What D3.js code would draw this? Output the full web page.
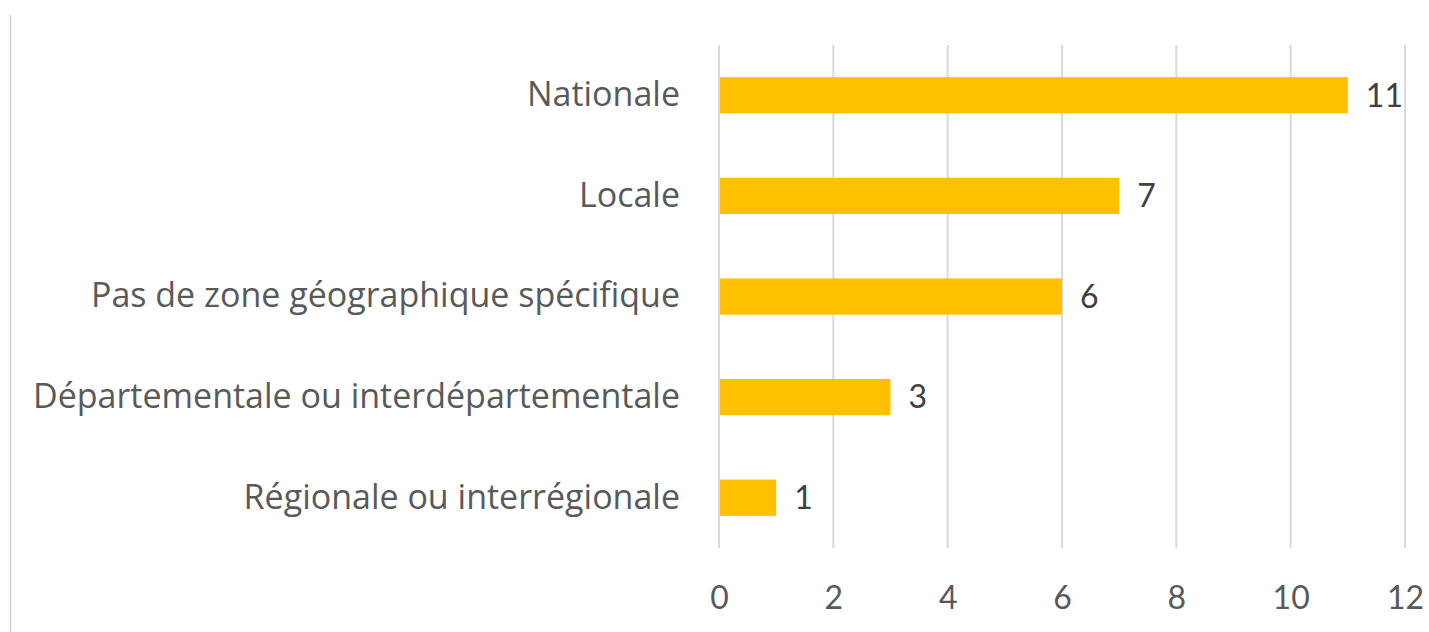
<!DOCTYPE html>
<html>
<head>
<meta charset="utf-8">
<script src="https://cdn.jsdelivr.net/npm/d3@7"></script>
<style>
  body { margin: 0; background: #fff; }
  svg { display: block; }
</style>
</head>
<body>
<svg id="chart" width="1429" height="632"></svg>
<script>
// data
var categories = ["Nationale", "Locale", "Pas de zone géographique spécifique",
                  "Départementale ou interdépartementale", "Régionale ou interrégionale"];
var values = [11, 7, 6, 3, 1];
var xTicks = [0, 2, 4, 6, 8, 10, 12];

var svg = d3.select("#chart"),
    margin = {top: 45, right: 24, bottom: 84, left: 719},
    width = +svg.attr("width") - margin.left - margin.right,
    height = +svg.attr("height") - margin.top - margin.bottom;

var font = "Lato, 'Open Sans', sans-serif";
var labelFont = "'Open Sans', Lato, sans-serif";

// frame line on the left
svg.append("line")
   .attr("x1", 10.5).attr("x2", 10.5)
   .attr("y1", 15).attr("y2", 632)
   .attr("stroke", "#d0d0d0")
   .attr("stroke-width", 1.5);

var g = svg.append("g")
           .attr("transform", "translate(" + margin.left + "," + margin.top + ")");

var x = d3.scaleLinear().domain([0, 12]).range([0, width]);
var y = d3.scaleBand().domain(categories).range([0, height]).paddingInner(0.64).paddingOuter(0.32);

// vertical gridlines
g.append("g")
 .selectAll("line")
 .data(xTicks)
 .enter().append("line")
   .attr("x1", function(d) { return x(d); })
   .attr("x2", function(d) { return x(d); })
   .attr("y1", 0)
   .attr("y2", height)
   .attr("stroke", "#d9d9d9")
   .attr("stroke-width", 2);

// bars
g.append("g")
 .selectAll("rect")
 .data(values)
 .enter().append("rect")
   .attr("x", x(0) + 1)
   .attr("y", function(d, i) { return y(categories[i]); })
   .attr("width", function(d) { return x(d) - x(0) - 1; })
   .attr("height", y.bandwidth())
   .attr("fill", "#ffc000");

// data labels
g.append("g")
 .selectAll("text")
 .data(values)
 .enter().append("text")
   .attr("x", function(d) { return x(d) + 18; })
   .attr("y", function(d, i) { return y(categories[i]) + y.bandwidth() / 2; })
   .attr("dy", "0.35em")
   .attr("fill", "#404040")
   .style("font-family", font)
   .style("font-size", "32px")
   .text(function(d) { return d; });

// x axis (labels only)
var xAxis = d3.axisBottom(x).tickValues(xTicks).tickSize(0).tickPadding(38);
var xg = g.append("g")
          .attr("transform", "translate(0," + height + ")")
          .call(xAxis);
xg.select(".domain").remove();
xg.selectAll("text")
  .attr("fill", "#595959")
  .style("font-family", font)
  .style("font-size", "32px");

// y axis (category labels only)
var yAxis = d3.axisLeft(y).tickSize(0).tickPadding(39);
var yg = g.append("g").call(yAxis);
yg.select(".domain").remove();
yg.selectAll("text")
  .attr("fill", "#595959")
  .style("font-family", labelFont)
  .style("font-size", "34px");
</script>
</body>
</html>
